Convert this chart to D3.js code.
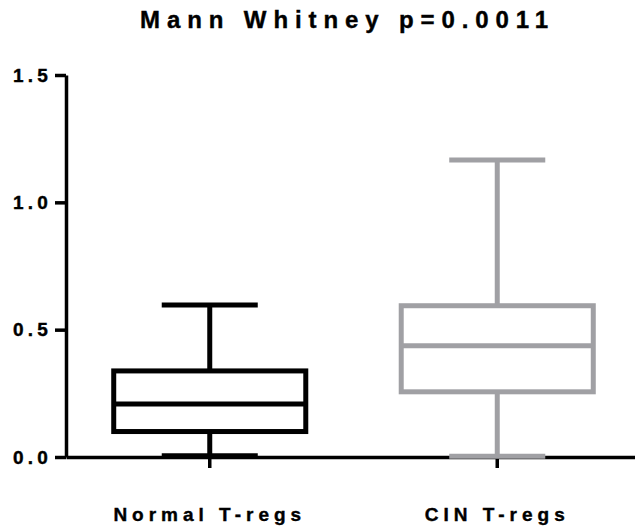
<!DOCTYPE html>
<html>
<head>
<meta charset="utf-8">
<script src="https://cdn.jsdelivr.net/npm/d3@7"></script>
<style>
  body { margin: 0; background: #fff; }
  svg { display: block; font-family: "Liberation Sans", Arial, sans-serif; font-weight: bold; }
  svg text { stroke: #000; stroke-width: 0.4px; }
</style>
</head>
<body>
<svg id="chart"></svg>
<script>
// box summary per group
const categories = ["Normal T-regs", "CIN T-regs"];
const mins    = [0.005, 0.003];
const q1s     = [0.100, 0.256];
const medians = [0.208, 0.437];
const q3s     = [0.338, 0.594];
const maxs    = [0.597, 1.166];
const colors  = ["#000000", "#a0a0a4"];
const yTicks  = [0, 0.5, 1.0, 1.5];
const title   = "Mann Whitney p=0.0011";

const width = 635, height = 527;

const svg = d3.select("#chart")
    .attr("width", width)
    .attr("height", height);

const x = d3.scaleBand()
    .domain(categories)
    .range([66, 641])
    .padding(0);

const y = d3.scaleLinear()
    .domain([0, 1.5])
    .range([457, 75]);

const boxes = categories.map((c, i) => ({
    cat: c, min: mins[i], q1: q1s[i], med: medians[i], q3: q3s[i], max: maxs[i], color: colors[i]
}));

// title
svg.append("text")
    .attr("x", 140)
    .attr("y", 28)
    .attr("font-size", 24)
    .attr("letter-spacing", 6.9)
    .text(title);

// y axis
const yAxis = svg.append("g")
    .attr("transform", "translate(66,0)")
    .call(d3.axisLeft(y).tickValues(yTicks).tickFormat(d3.format(".1f")).tickSize(11).tickSizeOuter(0).tickPadding(3));
yAxis.selectAll(".domain, .tick line").attr("stroke-width", 3.5);
yAxis.selectAll(".tick text")
    .attr("font-size", 19)
    .attr("font-family", "Liberation Sans, Arial, sans-serif")
    .attr("font-weight", "bold")
    .attr("letter-spacing", 4.2)
    .attr("fill", "#000");

// x axis
const xAxis = svg.append("g")
    .attr("transform", "translate(0,457)")
    .call(d3.axisBottom(x).tickSize(11).tickSizeOuter(0).tickPadding(40));
xAxis.selectAll(".domain, .tick line").attr("stroke-width", 3.5);
xAxis.selectAll(".tick text")
    .attr("font-size", 19)
    .attr("font-family", "Liberation Sans, Arial, sans-serif")
    .attr("font-weight", "bold")
    .attr("letter-spacing", 5)
    .attr("fill", "#000");

// box plots
const bw = x.bandwidth() * 0.668;
const cw = bw / 2;
const g = svg.append("g");

boxes.forEach(d => {
    const cx = x(d.cat) + x.bandwidth() / 2;
    const grp = g.append("g")
        .attr("stroke", d.color)
        .attr("stroke-width", 5)
        .attr("fill", "none");

    // whiskers
    grp.append("line")
        .attr("x1", cx).attr("x2", cx)
        .attr("y1", y(d.max)).attr("y2", y(d.q3));
    grp.append("line")
        .attr("x1", cx).attr("x2", cx)
        .attr("y1", y(d.q1)).attr("y2", y(d.min));
    grp.append("line")
        .attr("x1", cx - cw / 2).attr("x2", cx + cw / 2)
        .attr("y1", y(d.max)).attr("y2", y(d.max));
    grp.append("line")
        .attr("x1", cx - cw / 2).attr("x2", cx + cw / 2)
        .attr("y1", y(d.min)).attr("y2", y(d.min));

    // box and median
    grp.append("rect")
        .attr("x", cx - bw / 2)
        .attr("y", y(d.q3))
        .attr("width", bw)
        .attr("height", y(d.q1) - y(d.q3));
    grp.append("line")
        .attr("x1", cx - bw / 2).attr("x2", cx + bw / 2)
        .attr("y1", y(d.med)).attr("y2", y(d.med));
});
</script>
</body>
</html>
